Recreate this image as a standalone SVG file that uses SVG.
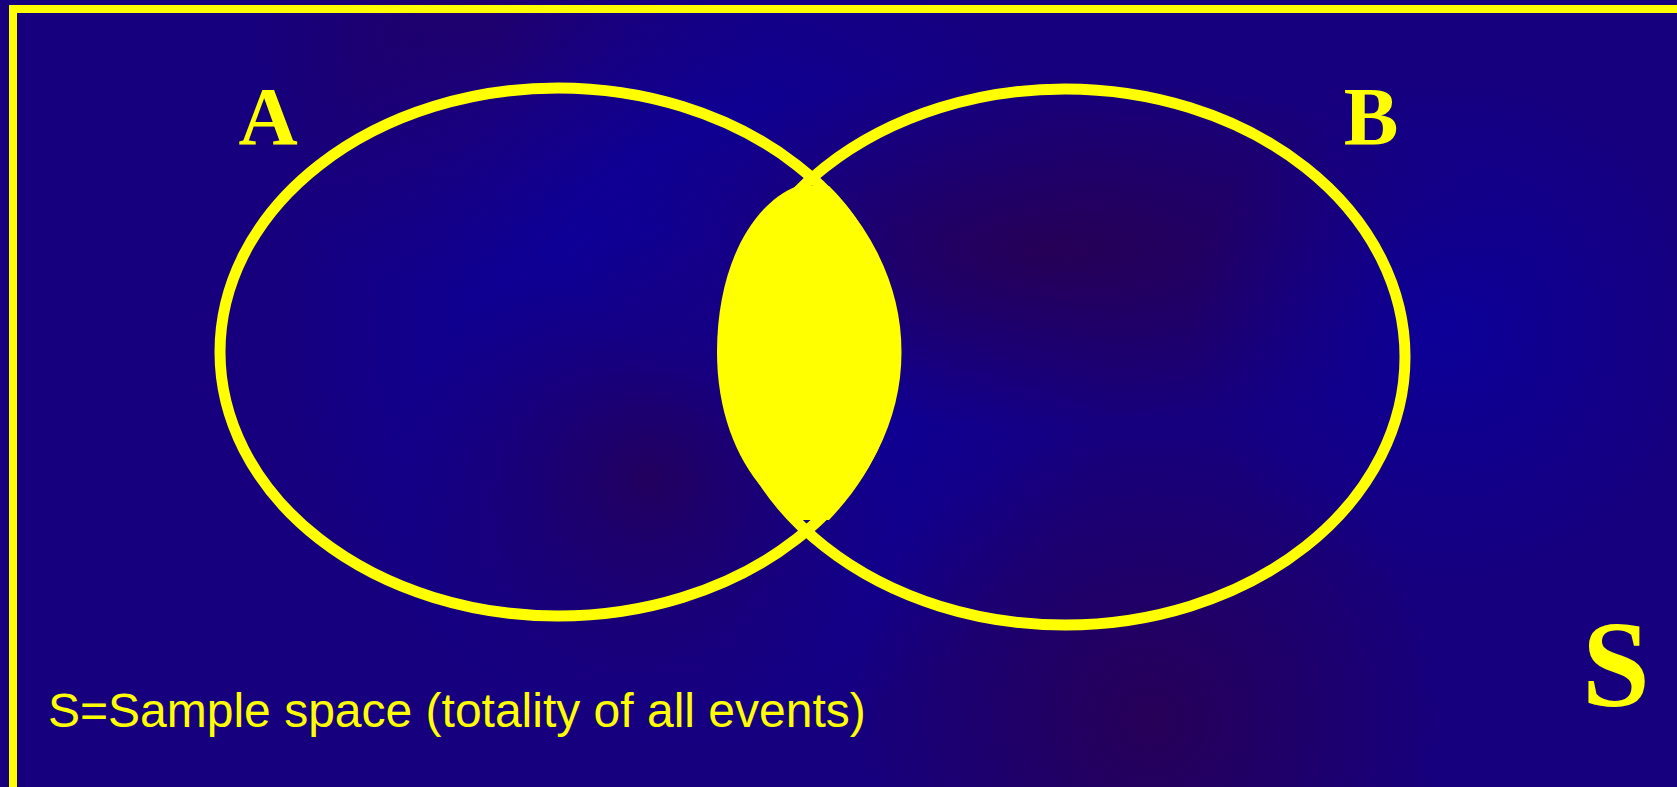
<svg xmlns="http://www.w3.org/2000/svg" width="1677" height="787" viewBox="0 0 1677 787">
  <defs>
    <radialGradient id="g1" cx="700" cy="330" r="420" gradientUnits="userSpaceOnUse">
      <stop offset="0" stop-color="#0800a8"/>
      <stop offset="1" stop-color="#0800a8" stop-opacity="0"/>
    </radialGradient>
    <radialGradient id="g2" cx="1050" cy="250" r="300" gradientTransform="translate(1050 250) scale(1.6 0.6) translate(-1050 -250)" gradientUnits="userSpaceOnUse">
      <stop offset="0" stop-color="#2a004e" stop-opacity="0.85"/>
      <stop offset="1" stop-color="#2a004e" stop-opacity="0"/>
    </radialGradient>
    <radialGradient id="g3" cx="1150" cy="720" r="300" gradientUnits="userSpaceOnUse">
      <stop offset="0" stop-color="#2a0050" stop-opacity="0.85"/>
      <stop offset="1" stop-color="#2a0050" stop-opacity="0"/>
    </radialGradient>
    <radialGradient id="g4" cx="1450" cy="330" r="260" gradientUnits="userSpaceOnUse">
      <stop offset="0" stop-color="#0c0098"/>
      <stop offset="1" stop-color="#0c0098" stop-opacity="0"/>
    </radialGradient>
    <radialGradient id="g5" cx="500" cy="40" r="260" gradientUnits="userSpaceOnUse">
      <stop offset="0" stop-color="#220066"/>
      <stop offset="1" stop-color="#220066" stop-opacity="0"/>
    </radialGradient>
    <radialGradient id="g6" cx="650" cy="480" r="250" gradientUnits="userSpaceOnUse">
      <stop offset="0" stop-color="#22005e"/>
      <stop offset="1" stop-color="#22005e" stop-opacity="0"/>
    </radialGradient>
    <style>
      .ring { fill: none; stroke: #ffff00; stroke-width: 11; }
      .label { font-family: "Liberation Serif", "Times New Roman", serif; font-weight: bold; fill: #ffff00; }
      .caption { font-family: "Liberation Sans", Arial, sans-serif; fill: #ffff00; font-size: 48px; }
    </style>
  </defs>

  <g id="background">
    <rect x="0" y="0" width="1677" height="787" fill="#16007e"/>
    <rect x="0" y="0" width="1677" height="787" fill="url(#g5)"/>
    <rect x="0" y="0" width="1677" height="787" fill="url(#g1)"/>
    <rect x="0" y="0" width="1677" height="787" fill="url(#g6)"/>
    <rect x="0" y="0" width="1677" height="787" fill="url(#g2)"/>
    <rect x="0" y="0" width="1677" height="787" fill="url(#g3)"/>
    <rect x="0" y="0" width="1677" height="787" fill="url(#g4)"/>
  </g>

  <g id="frame">
    <rect x="13" y="9" width="1700" height="820" fill="none" stroke="#ffff00" stroke-width="8"/>
  </g>

  <g id="event-A">
    <ellipse class="ring" cx="558" cy="352" rx="338" ry="264"/>
    <text class="label" x="268" y="144" font-size="82" text-anchor="middle">A</text>
  </g>

  <g id="event-B">
    <ellipse class="ring" cx="1065" cy="357" rx="340" ry="268"/>
    <text class="label" x="1371" y="144" font-size="82" text-anchor="middle">B</text>
  </g>

  <g id="intersection">
    <path d="M 797,186 L 829,186 C 872,228 899,292 899,352 C 899,420 872,475 829,520 L 800,520 C 752,492 717,432 717,352 C 717,272 748,206 797,186 Z" fill="#ffff00"/>
  </g>

  <g id="sample-space">
    <text class="label" x="1616" y="706" font-size="122" text-anchor="middle">S</text>
    <text class="caption" x="48" y="727">S=Sample space (totality of all events)</text>
  </g>
</svg>
